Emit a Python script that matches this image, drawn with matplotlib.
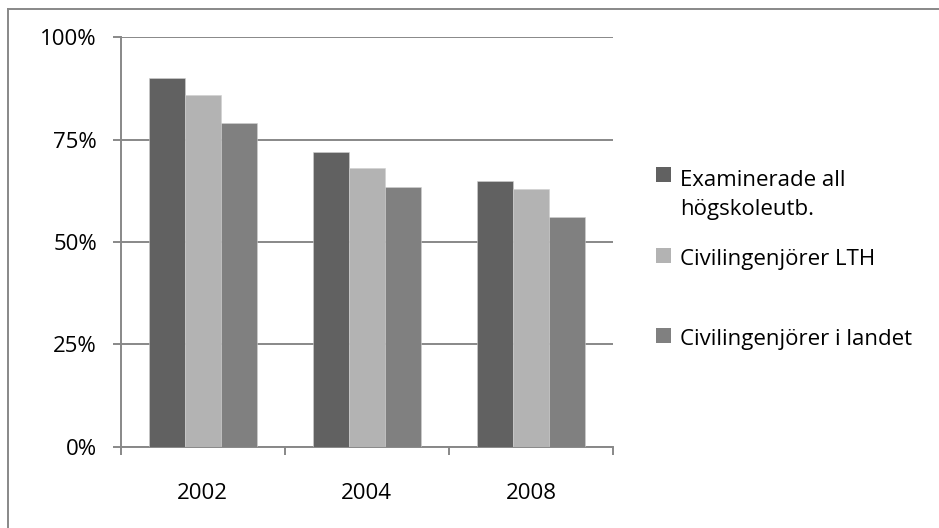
import matplotlib.pyplot as plt
import numpy as np
from matplotlib.patches import Rectangle
from matplotlib.lines import Line2D

plt.rcParams['font.family'] = ['Open Sans', 'DejaVu Sans']

years = ['2002', '2004', '2008']
series = ['Examinerade all\nhögskoleutb.', 'Civilingenjörer LTH', 'Civilingenjörer i landet']
examinerade = [0.90, 0.72, 0.65]
lth = [0.86, 0.68, 0.63]
landet = [0.79, 0.635, 0.56]
colors = ['#616161', '#b3b3b3', '#808080']
grey = '#888888'
fs = 16

fig = plt.figure(figsize=(9.39, 5.28), dpi=100)
ax = fig.add_axes([0.1285, 0.154, 0.5243, 0.7754])

x = np.arange(len(years))
w = 0.22
for i, vals in enumerate([examinerade, lth, landet]):
    ax.bar(x + (i - 1) * w, vals, width=w, color=colors[i],
           edgecolor='#d0d0d0', linewidth=0.4, zorder=3)

ax.set_xlim(-0.5, 2.5)
ax.set_ylim(0, 1.0)
ax.set_yticks([0, 0.25, 0.5, 0.75, 1.0])
ax.set_yticklabels(['0%', '25%', '50%', '75%', '100%'])
ax.set_xticks(x)
ax.set_xticklabels(years)
ax.set_xticks([-0.5, 0.5, 1.5, 2.5], minor=True)
ax.tick_params(axis='x', which='major', length=0, pad=26, labelsize=fs)
ax.tick_params(axis='x', which='minor', length=6, width=1.4, color=grey, direction='out')
ax.tick_params(axis='y', length=6, width=1.4, color=grey, pad=11, labelsize=fs)
ax.yaxis.grid(True, color=grey, linewidth=1.4, zorder=0)
ax.set_axisbelow(True)
for side in ['top', 'right']:
    ax.spines[side].set_visible(False)
for side in ['left', 'bottom']:
    ax.spines[side].set_color(grey)
    ax.spines[side].set_linewidth(1.4)

# legend drawn by hand: square marker beside the first line of each label,
# text placed by the baseline of its last line
W, H = 939, 528
square_bottoms = [182, 263, 343]
baselines = [215, 265, 345]
for lab, col, sb, yb in zip(series, colors, square_bottoms, baselines):
    fig.patches.append(Rectangle((656 / W, 1 - sb / H), 15 / W, 15 / H,
                                 transform=fig.transFigure, facecolor=col,
                                 edgecolor='none'))
    fig.text(680 / W, 1 - yb / H, lab, fontsize=fs, va='baseline', ha='left',
             linespacing=1.5)

# chart frame (top and left edge)
fig.add_artist(Line2D([7.5 / W, 1], [1 - 9 / H, 1 - 9 / H], color=grey, lw=1.4,
                      transform=fig.transFigure))
fig.add_artist(Line2D([7.5 / W, 7.5 / W], [0, 1 - 9 / H], color=grey, lw=1.4,
                      transform=fig.transFigure))

fig.savefig('out.png', dpi=100)
